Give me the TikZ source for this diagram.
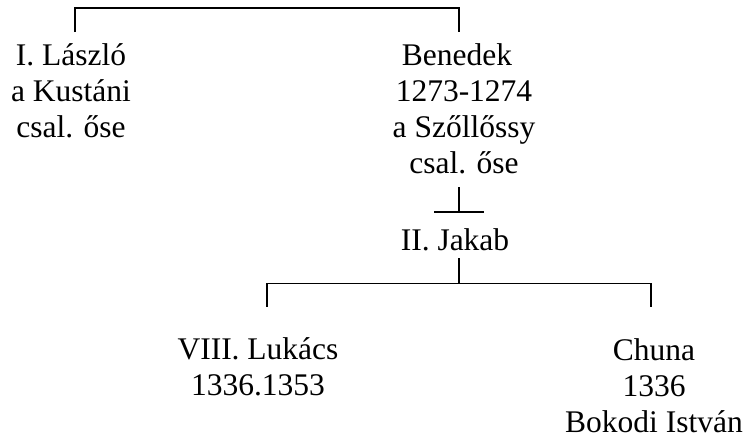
\documentclass[tikz,border=0pt]{standalone}
\usepackage{fontspec}
\setmainfont{Liberation Serif}
\usepackage{xcolor}
\usepackage{tikz}
\definecolor{ink}{HTML}{000000}
\definecolor{paper}{HTML}{FFFFFF}
\tikzset{
  person/.style={anchor=north, inner sep=0pt, align=center, text=ink,
    font=\fontsize{31.5}{36.2}\selectfont},
  link/.style={draw=ink, line width=1.6pt}
}

\begin{document}
\begin{tikzpicture}[x=1pt, y=-1pt]
  \fill[paper] (0,0) rectangle (747,439);
  \useasboundingbox (0,0) rectangle (747,439);

  \node[person] (laszlo)  at (71,39.7)  {\strut I. László\\a Kustáni\\csal. őse};
  \node[person] (benedek) at (464,39.7) {\strut Benedek\hspace*{14pt}\\1273-1274\\a Szőllőssy\\csal. őse};
  \node[person] (jakab)   at (455,224.7) {\strut II. Jakab};
  \node[person] (lukacs)  at (258,334)  {\strut VIII. Lukács\\1336.1353};
  \node[person] (chuna)   at (654,334.7) {\strut Chuna\\1336\\Bokodi István};

  \coordinate (lasz-top)   at (75,32);
  \coordinate (bene-top)   at (459,32);
  \coordinate (parent-bar) at (267,8);
  \draw[link] (lasz-top) |- (parent-bar) -| (bene-top);

  \coordinate (bene-bot)  at (459,187);
  \coordinate (bene-foot) at (459,211.7);
  \draw[link] (bene-bot) -- (bene-foot);
  \draw[link] ([xshift=-25pt]bene-foot) -- ([xshift=25pt]bene-foot);

  \coordinate (jak-bot)   at (459,258.3);
  \coordinate (child-bar) at (459,283.3);
  \coordinate (luk-top)   at (267,306.7);
  \coordinate (chu-top)   at (651,306.7);
  \draw[link] (jak-bot) -- (child-bar);
  \draw[link] (luk-top) |- (child-bar) -| (chu-top);
\end{tikzpicture}
\end{document}
